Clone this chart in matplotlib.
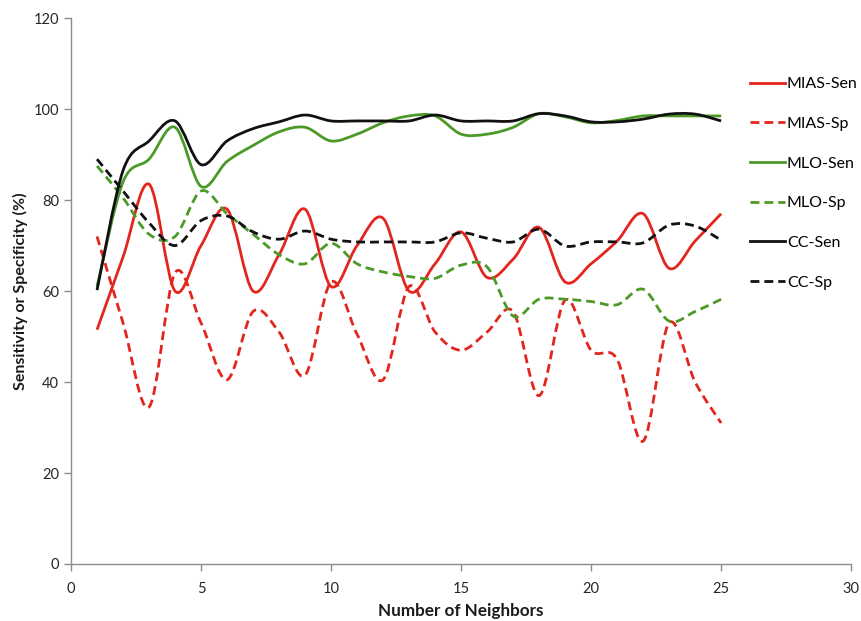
import numpy as np
import matplotlib
matplotlib.use("Agg")
import matplotlib.pyplot as plt
from matplotlib.path import Path
from matplotlib.patches import PathPatch
from matplotlib.lines import Line2D

plt.rcParams['font.family'] = ['Lato', 'DejaVu Sans']

# values, one point per neighbour count
neighbors = list(range(1, 26))
mias_sen = [51.5, 67.5, 83.5, 60, 70, 78, 60, 68, 78, 61, 70, 76, 60,
            66, 73, 63, 67, 74, 62, 66, 71, 77, 65, 71, 77]
mias_sp = [72, 53, 34.5, 64, 53, 40.5, 55.5, 51, 41.5, 62, 50.5, 40.5, 61,
           51, 47, 51, 55.5, 37, 58, 47, 45, 27, 53, 40, 31]
mlo_sen = [61, 84, 89, 96, 83, 88.5, 92, 95, 96, 93, 94.5, 97, 98.5,
           98.5, 94.5, 94.5, 96, 99, 98.3, 97, 97.5, 98.5, 98.5, 98.5, 98.5]
mlo_sp = [87.5, 80.5, 72.5, 72, 82, 77, 72.5, 68, 66, 70.5, 66, 64.2, 63.2,
          62.8, 65.7, 65.3, 54.5, 58.2, 58.2, 57.7, 57, 60.4, 53.4, 55.5, 58.2]
cc_sen = [60.2, 86.5, 93, 97.4, 87.8, 93, 95.7, 97.2, 98.7, 97.4, 97.4, 97.4, 97.4,
          98.7, 97.4, 97.4, 97.4, 99, 98.5, 97.2, 97.2, 97.8, 98.9, 98.9, 97.4]
cc_sp = [89, 82, 75, 70, 75.5, 76.5, 73, 71.4, 73.2, 71.4, 70.8, 70.8, 70.8,
         70.8, 72.8, 71.6, 70.8, 73.6, 69.9, 70.8, 70.8, 70.6, 74.5, 74.3, 71.2]

labels = ['MIAS-Sen', 'MIAS-Sp', 'MLO-Sen', 'MLO-Sp', 'CC-Sen', 'CC-Sp']
series = [mias_sen, mias_sp, mlo_sen, mlo_sp, cc_sen, cc_sp]

RED = '#e3261d'
GREEN = '#4b9a27'
BLACK = '#111111'
colors = [RED, RED, GREEN, GREEN, BLACK, BLACK]
dashes = (0, (3.2, 1.8))
styles = ['-', dashes, '-', dashes, '-', dashes]


# Excel-like smoothed line: bezier segments through each data point
def smooth_path(x, y):
    x = np.asarray(x, float)
    y = np.asarray(y, float)
    px = np.concatenate([[x[0]], x, [x[-1]]])
    py = np.concatenate([[y[0]], y, [y[-1]]])
    verts = [(x[0], y[0])]
    codes = [Path.MOVETO]
    for i in range(len(x) - 1):
        c1 = (x[i] + (px[i + 2] - px[i]) / 6, y[i] + (py[i + 2] - py[i]) / 6)
        c2 = (x[i + 1] - (px[i + 3] - px[i + 1]) / 6,
              y[i + 1] - (py[i + 3] - py[i + 1]) / 6)
        verts += [c1, c2, (x[i + 1], y[i + 1])]
        codes += [Path.CURVE4] * 3
    return Path(verts, codes)


fig = plt.figure(figsize=(8.62, 6.21), dpi=100)
ax = fig.add_axes([0.0824, 0.0918, 0.905, 0.879])

handles = []
for vals, lab, col, ls in zip(series, labels, colors, styles):
    patch = PathPatch(smooth_path(neighbors, vals), fill=False, edgecolor=col,
                      lw=2.0, linestyle=ls, capstyle='butt', joinstyle='round')
    ax.add_patch(patch)
    handles.append(Line2D([], [], color=col, lw=2.0, linestyle=ls, label=lab))

ax.set_xlim(0, 30)
ax.set_ylim(0, 120)
ax.set_xticks(range(0, 31, 5))
ax.set_yticks(range(0, 121, 20))

for s in ['top', 'right']:
    ax.spines[s].set_visible(False)
for s in ['left', 'bottom']:
    ax.spines[s].set_color('#8c8c8c')
    ax.spines[s].set_linewidth(1.0)
ax.tick_params(axis='both', colors='#8c8c8c', length=5, width=1.0,
               labelcolor='#262626', labelsize=10.5)
ax.tick_params(axis='x', pad=8)

ax.set_xlabel('Number of Neighbors', fontsize=12.3, fontweight='bold',
              color='#1a1a1a', labelpad=5)
ax.set_ylabel('Sensitivity or Specificity (%)', fontsize=11.5,
              fontweight='bold', color='#1a1a1a', labelpad=4)

ax.legend(handles=handles, loc='upper left', bbox_to_anchor=(0.8625, 0.904),
          frameon=False, fontsize=11.5, handlelength=2.2, handletextpad=0.1,
          labelspacing=1.6, borderaxespad=0)

fig.savefig('out.png', dpi=100)
